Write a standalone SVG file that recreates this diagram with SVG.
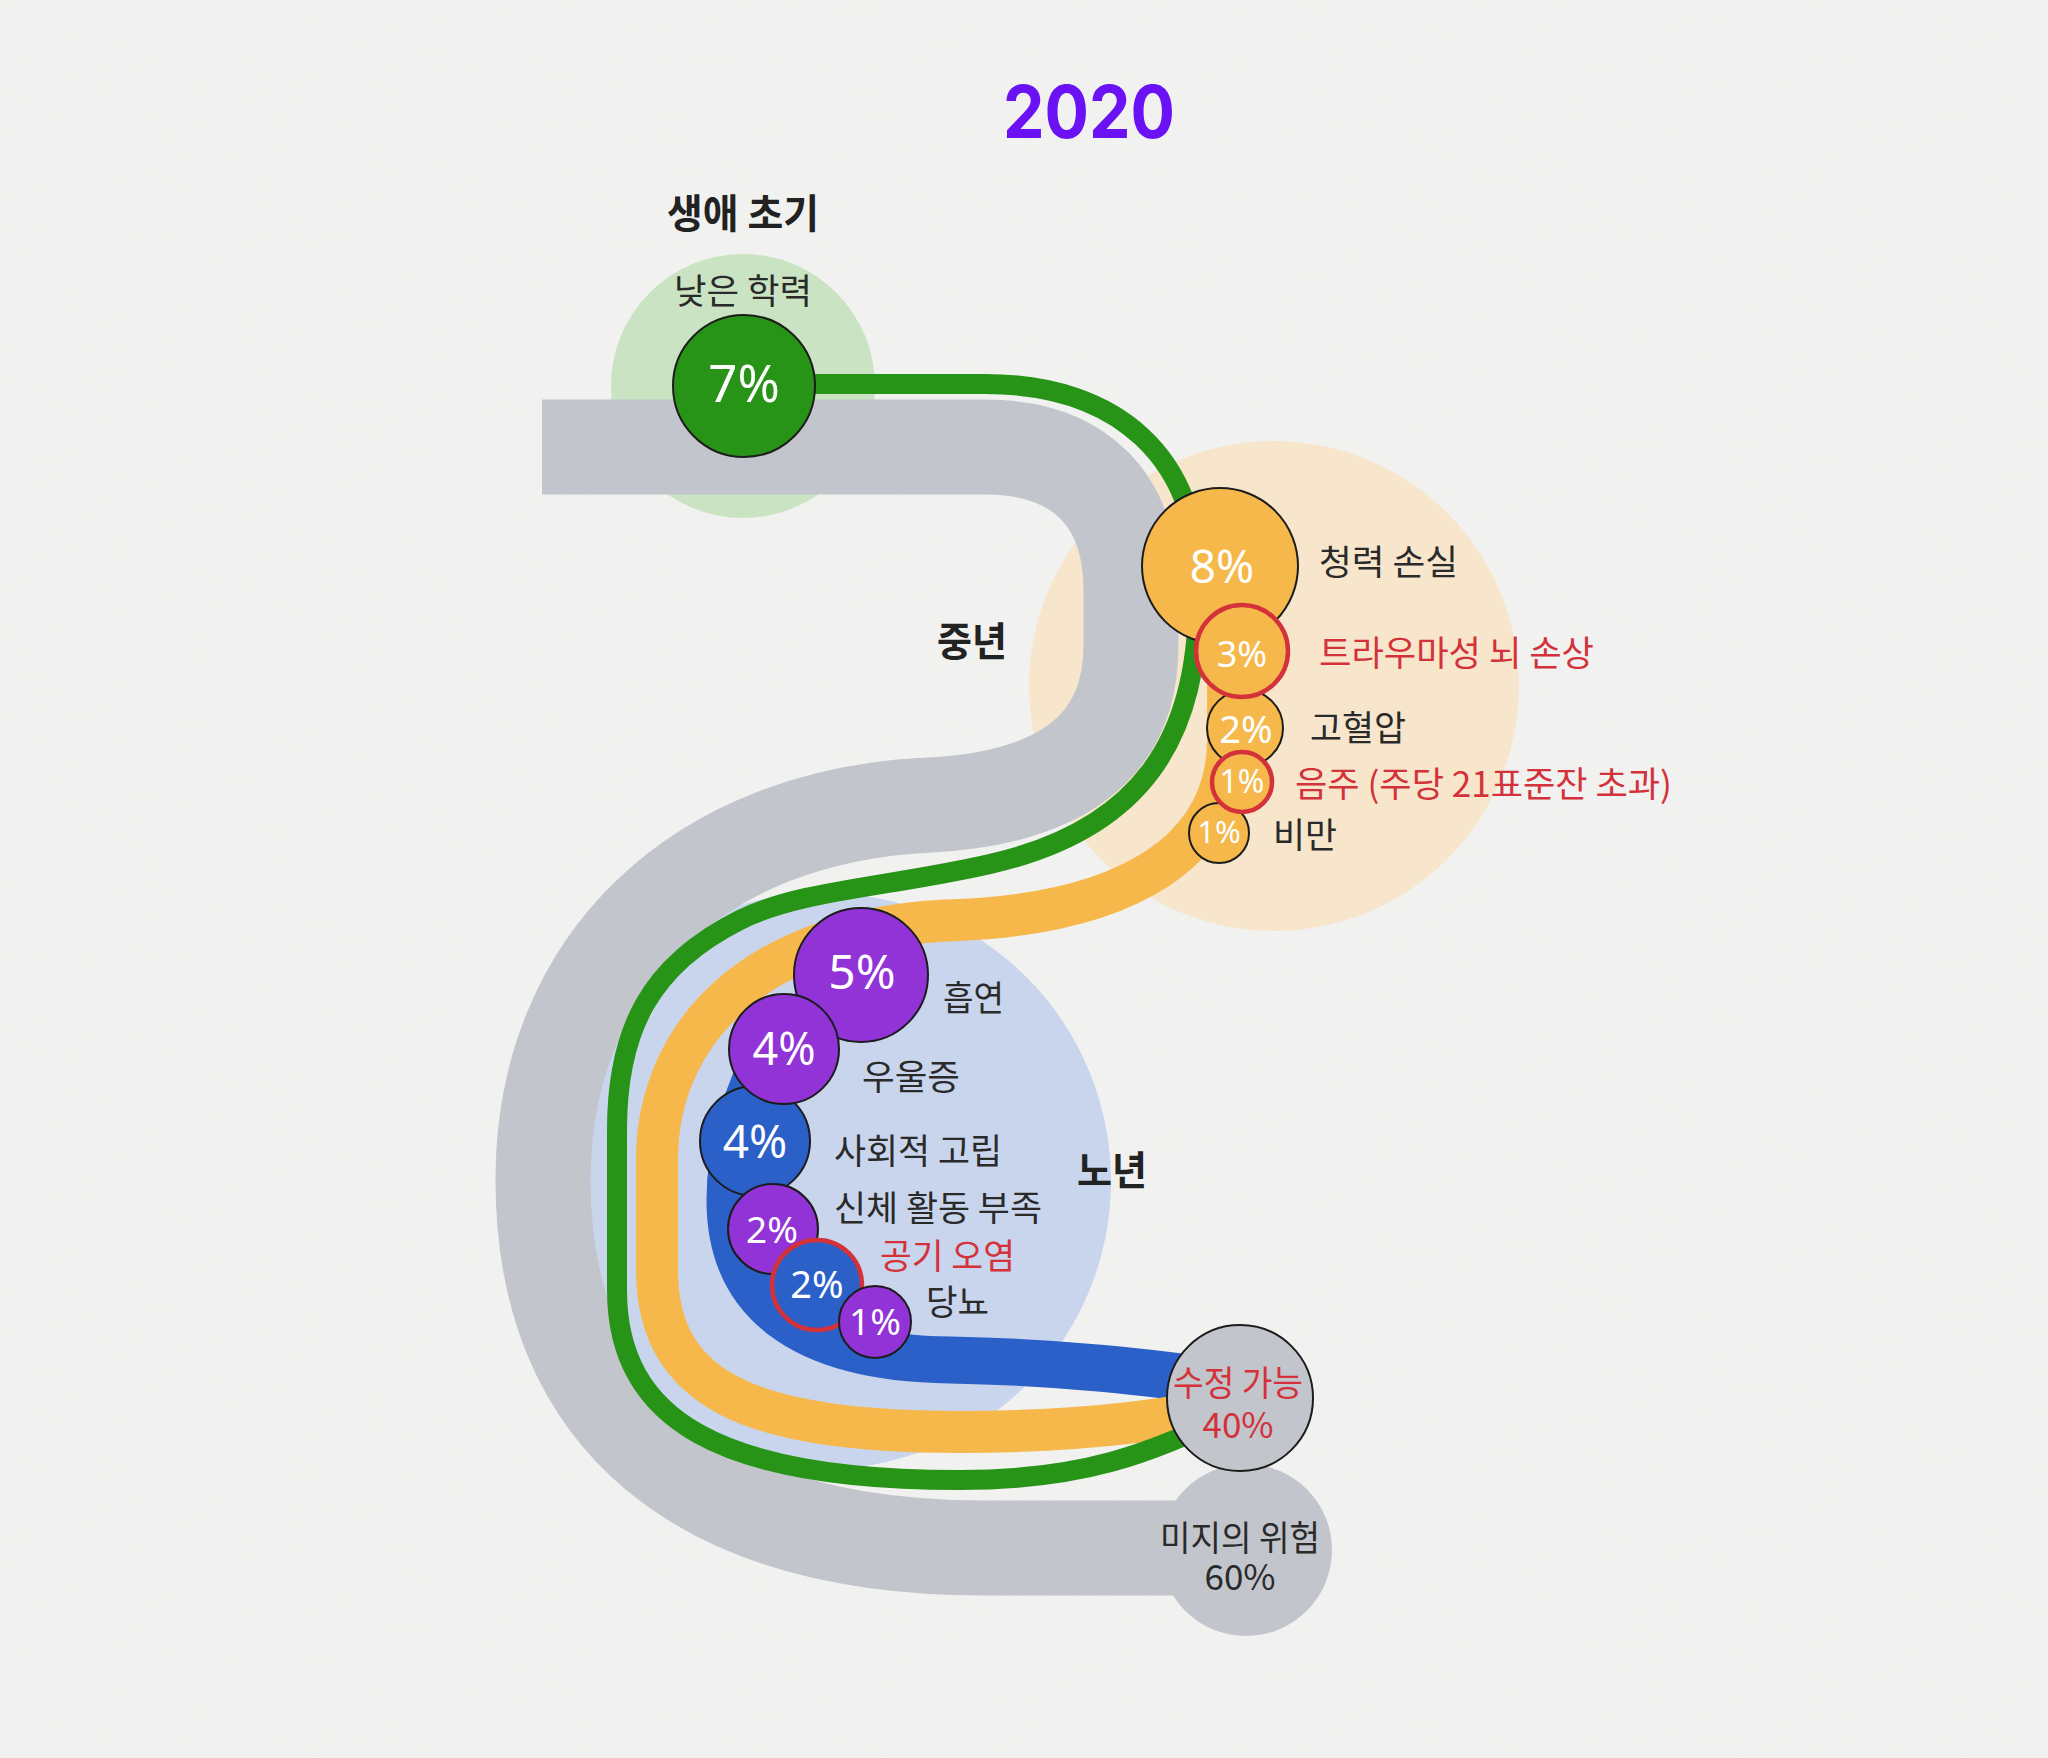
<svg xmlns="http://www.w3.org/2000/svg" width="2048" height="1758" viewBox="0 0 2048 1758">
<defs>
<style>
.bg{fill:#f3f3f2}
.halo-g{fill:#cae3c2}
.halo-o{fill:#f7e6cc}
.halo-b{fill:#c8d5ec}
.band{fill:none;stroke-linecap:butt;stroke-linejoin:round}
.gray{stroke:#c2c5cb;stroke-width:95}
.green{stroke:#279418;stroke-width:20}
.orange{stroke:#f6b84a;stroke-width:42}
.blue{stroke:#2a60c8;stroke-width:47}
.c{stroke:#1c1c1c;stroke-width:2}
.red{stroke:#d3323a;stroke-width:4.5}
.fo{fill:#f6b84a}
.fp{fill:#9133d6}
.fb{fill:#2a60c8}
.fg{fill:#279418}
.fgr{fill:#c2c5cb}
.pct{font-family:"Noto Sans","Liberation Sans",sans-serif;fill:#ffffff;text-anchor:middle}
.lbl{font-family:"Noto Sans CJK KR","Noto Sans",sans-serif;font-size:35px;fill:#2a2a2a}
.hd{font-family:"Noto Sans CJK KR","Noto Sans",sans-serif;font-size:40px;font-weight:bold;fill:#222222}
.rt{fill:#d3323a}
</style>
<filter id="paper" x="0" y="0" width="100%" height="100%">
<feTurbulence type="fractalNoise" baseFrequency="0.9" numOctaves="2" seed="3" result="n"/>
<feColorMatrix in="n" type="matrix" values="0 0 0 0 0.55  0 0 0 0 0.55  0 0 0 0 0.55  0 0 0 0.08 0"/>
</filter>
</defs>
<rect class="bg" x="0" y="0" width="2048" height="1758"/>
<rect x="0" y="0" width="2048" height="1758" filter="url(#paper)"/>

<text x="1089" y="138" text-anchor="middle" font-family="Inter,'Noto Sans',sans-serif" font-weight="bold" font-size="73" fill="#6a12f4" textLength="172" lengthAdjust="spacingAndGlyphs">2020</text>

<g id="halos">
<circle class="halo-g" cx="743" cy="386" r="132"/>
<circle class="halo-o" cx="1274" cy="686" r="245"/>
<circle class="halo-b" cx="823" cy="1181" r="288"/>
</g>

<g id="connectors">
<path class="band gray" d="M542 447 H985 C1080 447 1131 500 1131 590 L1131 645 C1131 748 1060 798 930 805 C700 815 543 960 543 1180 C543 1420 700 1548 985 1548 H1246"/>
<path class="band blue" d="M775 1040 C745 1095 730 1150 730 1200 C730 1300 800 1358 950 1360 C1060 1362 1150 1372 1240 1385"/>
<path class="band orange" d="M1228 600 L1228 740 C1228 850 1130 912 960 920 C760 925 657 1030 657 1160 L657 1270 C657 1390 750 1432 960 1432 C1080 1432 1170 1420 1240 1405"/>
<path class="band green" d="M744 384 H985 C1120 384 1198 460 1198 580 L1198 600 C1198 740 1140 830 990 864 C890 887 800 890 740 920 C650 965 617 1030 617 1130 L617 1290 C617 1420 720 1480 960 1480 C1080 1480 1150 1455 1240 1410"/>
</g>

<g id="early">
<text class="hd" x="743" y="228" text-anchor="middle" textLength="152" lengthAdjust="spacingAndGlyphs">생애 초기</text>
<text class="lbl" x="743" y="304" text-anchor="middle" textLength="138" lengthAdjust="spacingAndGlyphs">낮은 학력</text>
<circle class="fg c" cx="744" cy="386" r="71"/>
<text class="pct" x="744" y="402" font-size="51">7%</text>
</g>

<g id="midlife">
<text class="hd" x="937" y="656" textLength="70" lengthAdjust="spacingAndGlyphs">중년</text>
<g id="hearing">
<circle class="fo c" cx="1220" cy="566" r="78"/>
<text class="pct" x="1222" y="583" font-size="46">8%</text>
<text class="lbl" x="1319" y="575" textLength="139" lengthAdjust="spacingAndGlyphs">청력 손실</text>
</g>
<g id="hypertension">
<circle class="fo c" cx="1245" cy="728" r="38"/>
<text class="pct" x="1246" y="743" font-size="38">2%</text>
<text class="lbl" x="1310" y="741" textLength="96" lengthAdjust="spacingAndGlyphs">고혈압</text>
</g>
<g id="obesity">
<circle class="fo c" cx="1219" cy="833" r="30"/>
<text class="pct" x="1219" y="843" font-size="31">1%</text>
<text class="lbl" x="1273" y="848" textLength="64" lengthAdjust="spacingAndGlyphs">비만</text>
</g>
<g id="tbi">
<circle class="fo red" cx="1242" cy="651" r="46"/>
<text class="pct" x="1242" y="667" font-size="36">3%</text>
<text class="lbl rt" x="1319" y="666" textLength="275" lengthAdjust="spacingAndGlyphs">트라우마성 뇌 손상</text>
</g>
<g id="alcohol">
<circle class="fo red" cx="1242" cy="782" r="30"/>
<text class="pct" x="1242" y="793" font-size="32">1%</text>
<text class="lbl rt" x="1295" y="797" textLength="377" lengthAdjust="spacingAndGlyphs">음주 (주당 21표준잔 초과)</text>
</g>
</g>

<g id="late">
<text class="hd" x="1077" y="1185" textLength="70" lengthAdjust="spacingAndGlyphs">노년</text>
<g id="smoking">
<circle class="fp c" cx="861" cy="975" r="67"/>
<text class="pct" x="862" y="989" font-size="48">5%</text>
<text class="lbl" x="943" y="1011" textLength="61" lengthAdjust="spacingAndGlyphs">흡연</text>
</g>
<g id="isolation">
<circle class="fb c" cx="755" cy="1141" r="55"/>
<text class="pct" x="755" y="1158" font-size="46">4%</text>
<text class="lbl" x="834" y="1164" textLength="168" lengthAdjust="spacingAndGlyphs">사회적 고립</text>
</g>
<g id="depression">
<circle class="fp c" cx="784" cy="1049" r="55"/>
<text class="pct" x="784" y="1065" font-size="45">4%</text>
<text class="lbl" x="862" y="1090" textLength="98" lengthAdjust="spacingAndGlyphs">우울증</text>
</g>
<g id="inactivity">
<circle class="fp c" cx="773" cy="1229" r="45"/>
<text class="pct" x="772" y="1243" font-size="37">2%</text>
<text class="lbl" x="834" y="1221" textLength="208" lengthAdjust="spacingAndGlyphs">신체 활동 부족</text>
</g>
<g id="pollution">
<circle class="fb red" cx="817" cy="1285" r="45"/>
<text class="pct" x="817" y="1298" font-size="38">2%</text>
<text class="lbl rt" x="880" y="1269" textLength="135" lengthAdjust="spacingAndGlyphs">공기 오염</text>
</g>
<g id="diabetes">
<circle class="fp c" cx="875" cy="1322" r="36"/>
<text class="pct" x="875" y="1335" font-size="37">1%</text>
<text class="lbl" x="926" y="1315" textLength="63" lengthAdjust="spacingAndGlyphs">당뇨</text>
</g>
</g>

<g id="unknown">
<circle class="fgr" cx="1246" cy="1550" r="86"/>
<text class="lbl" x="1240" y="1551" font-size="34" text-anchor="middle" textLength="160" lengthAdjust="spacingAndGlyphs">미지의 위험</text>
<text class="lbl" x="1240" y="1590" font-size="37" text-anchor="middle" font-family="'Noto Sans',sans-serif">60%</text>
</g>

<g id="modifiable">
<circle class="fgr c" cx="1240" cy="1398" r="73"/>
<text class="lbl rt" x="1238" y="1396" font-size="32" text-anchor="middle" textLength="130" lengthAdjust="spacingAndGlyphs">수정 가능</text>
<text class="lbl rt" x="1238" y="1438" font-size="37" text-anchor="middle" font-family="'Noto Sans',sans-serif">40%</text>
</g>
</svg>
